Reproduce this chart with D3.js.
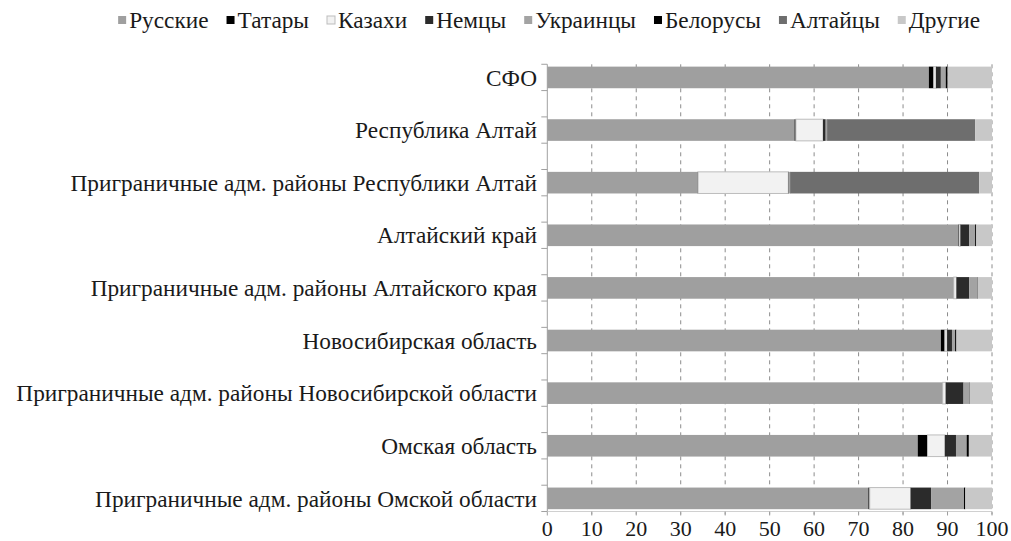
<!DOCTYPE html>
<html><head><meta charset="utf-8">
<script src="https://cdn.jsdelivr.net/npm/d3@7"></script>
<style>
html,body{margin:0;padding:0;background:#fff;}
svg text{font-family:"Liberation Serif","Times New Roman","DejaVu Serif",serif;}
</style></head>
<body>
<svg id="chart" width="1011" height="541"></svg>
<script>
const categories = ["СФО","Республика Алтай","Приграничные адм. районы Республики Алтай","Алтайский край","Приграничные адм. районы Алтайского края","Новосибирская область","Приграничные адм. районы Новосибирской области","Омская область","Приграничные адм. районы Омской области"];
const seriesNames = ["Русские","Татары","Казахи","Немцы","Украинцы","Белорусы","Алтайцы","Другие"];
const russians    = [85.8, 55.6, 33.8, 92.4, 91.3, 88.5, 88.8, 83.3, 72.2];
const tatars      = [1.1, 0.3, 0.1, 0.2, 0.1, 0.9, 0.1, 2.2, 0.3];
const kazakhs     = [0.5, 6.1, 20.3, 0.3, 0.6, 0.5, 0.7, 3.9, 9.2];
const germans     = [1.1, 0.6, 0.1, 2.0, 2.9, 1.1, 4.0, 2.5, 4.6];
const ukrainians  = [1.1, 0.3, 0.3, 1.3, 1.8, 0.7, 1.3, 2.4, 7.4];
const belarusians = [0.3, 0.1, 0.1, 0.2, 0.1, 0.3, 0.1, 0.5, 0.3];
const altaians    = [0.2, 33.2, 42.4, 0.1, 0.0, 0.0, 0.0, 0.0, 0.0];
const others      = [9.9, 3.8, 2.9, 3.5, 3.2, 8.0, 5.0, 5.2, 6.0];
const xTicks = [0,10,20,30,40,50,60,70,80,90,100];

const seriesValues = [russians, tatars, kazakhs, germans, ukrainians, belarusians, altaians, others];
const colors = ["#9f9f9f","#000000","#f2f2f2","#2b2b2b","#a3a3a3","#000000","#6e6e6e","#c8c8c8"];

(function(){
const svg = d3.select("#chart");
const pL = 547.3, pR = 992, pT = 64.3, pB = 511.5;
const txt = "#1a1a1a";

const x = d3.scaleLinear().domain([0,100]).range([pL,pR]);
const y = d3.scaleBand().domain(categories).range([pT,pB]).paddingInner(0.589).paddingOuter(0.044);
const bw = y.bandwidth();
const step = y.step();

const rows = categories.map((c,i)=>{
  const r = {cat:c};
  seriesNames.forEach((s,j)=>{ r[s] = seriesValues[j][i]; });
  return r;
});
const stacked = d3.stack().keys(seriesNames)(rows);

// gridlines
svg.append("g").selectAll("line").data(xTicks.filter(t=>t>0)).join("line")
  .attr("x1",d=>x(d)).attr("x2",d=>x(d)).attr("y1",pT).attr("y2",pB+3)
  .attr("stroke","#8c8c8c").attr("stroke-width",1).attr("stroke-dasharray","4,4");

// bars
stacked.forEach((layer,j)=>{
  svg.append("g").selectAll("rect").data(layer).join("rect")
    .attr("x",d=>x(d[0])).attr("width",d=>Math.max(0,x(d[1])-x(d[0])))
    .attr("y",d=>y(d.data.cat)).attr("height",bw)
    .attr("fill",colors[j])
    .attr("stroke", j===2 ? "#bdbdbd" : "none")
    .attr("stroke-width", j===2 ? 1 : 0);
});

// left axis
svg.append("line").attr("x1",pL).attr("x2",pL).attr("y1",pT).attr("y2",pB)
  .attr("stroke","#a0a0a0").attr("stroke-width",1);
const ticksY = [];
categories.forEach(c=>{ const cy=y(c)+bw/2; ticksY.push(cy-step/4, cy+step/4); });
svg.append("g").selectAll("line").data(ticksY).join("line")
  .attr("x1",pL-6).attr("x2",pL).attr("y1",d=>d).attr("y2",d=>d)
  .attr("stroke","#a0a0a0");

// bottom axis
svg.append("line").attr("x1",pL).attr("x2",pR).attr("y1",pB).attr("y2",pB)
  .attr("stroke","#d0d0d0");
svg.append("g").selectAll("line").data(xTicks).join("line")
  .attr("x1",d=>x(d)).attr("x2",d=>x(d)).attr("y1",pB).attr("y2",pB+4)
  .attr("stroke","#a0a0a0");
svg.append("g").selectAll("text").data(xTicks).join("text")
  .attr("x",d=>x(d)).attr("y",536).attr("text-anchor","middle").attr("fill",txt)
  .attr("font-size",22).text(d=>d);

// category labels
svg.append("g").selectAll("text").data(categories).join("text")
  .attr("x",537).attr("y",d=>y(d)+bw/2).attr("dy","0.35em").attr("fill",txt)
  .attr("text-anchor","end").attr("font-size",23.3).text(d=>d);

// legend: ends at x=980, third item (Казахи) starts near x=327
const lg = svg.append("g");
const items = [];
seriesNames.forEach((s,j)=>{
  const g = lg.append("g");
  g.append("rect").attr("x",0).attr("y",-4).attr("width",8).attr("height",8)
    .attr("fill",colors[j]).attr("stroke", j===2?"#bdbdbd":"none");
  const t = g.append("text").attr("x",11).attr("y",0).attr("dy","0.35em").attr("fill",txt)
    .attr("font-size",23.3).text(s);
  items.push({g, w: 11 + t.node().getComputedTextLength()});
});
const tail = items.slice(2);
const gapL = (980 - 327 - d3.sum(tail,d=>d.w)) / (tail.length-1);
let cx = 327 - gapL - items[1].w - gapL - items[0].w;
items.forEach(it=>{ it.g.attr("transform",`translate(${cx},20)`); cx += it.w + gapL; });
})();
</script>
</body></html>
